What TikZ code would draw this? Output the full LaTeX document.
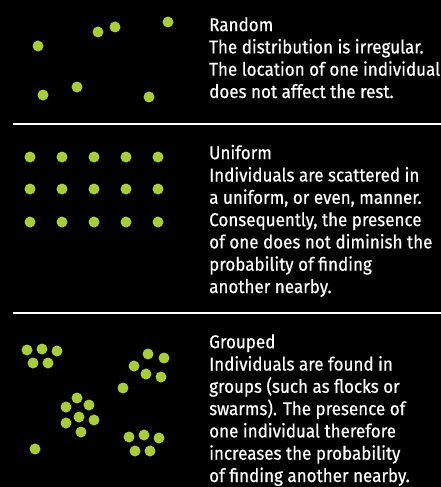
\documentclass[tikz,border=0pt]{standalone}
\usepackage{fontspec}
\setmainfont{Fira Sans}[FakeStretch=0.92,FakeBold=0.5]
\usetikzlibrary{positioning}
\definecolor{lime}{HTML}{A9CC3E}
\definecolor{ink}{HTML}{000000}
\tikzset{
  dot/.style={circle,fill=lime,inner sep=0pt,minimum size=11pt},
  rule/.style={draw=white,line width=1.3pt},
  caption/.style={anchor=base west,align=left,text=white,inner sep=0pt,
                  font=\fontsize{18.5}{22.3}\selectfont}
}
\begin{document}
\begin{tikzpicture}[x=1pt,y=-1pt]
\fill[ink] (0,0) rectangle (441,487);
\useasboundingbox (0,0) rectangle (441,487);
% random
\foreach \px/\py in {38/46,98/32,115/27,168/22,43/95,77/87,149/97}
  \node[dot] at (\px,\py) {};
\node[caption] (rnd) at (209,98) {Random\\The distribution is irregular.\\The location of one individual\\does not affect the rest.};
\draw[rule] (13,124) -- (441,124);
% uniform
\foreach \px in {30,62,94,126,158}
  \foreach \py in {157,189,222}
    \node[dot] at (\px,\py) {};
\node[caption] (uni) at (209,293) {Uniform\\Individuals are scattered in\\a uniform, or even, manner.\\Consequently, the presence\\of one does not diminish the\\probability of finding\\another nearby.};
\draw[rule] (13,313) -- (441,313);
% grouped
\foreach \px/\py in {27/350,42/349,57/351,33/363,48/363,
                     148/354,164/358,134/366,146/374,161/377,123/388,
                     79/417,77/398,89/405,66/407,66/423,94/420,81/432,
                     129/437,144/435,159/438,135/451,150/451,35/449}
  \node[dot] at (\px,\py) {};
\node[caption] (grp) at (209,482) {Grouped\\Individuals are found in\\groups (such as flocks or\\swarms). The presence of\\one individual therefore\\increases the probability\\of finding another nearby.};
\end{tikzpicture}
\end{document}
